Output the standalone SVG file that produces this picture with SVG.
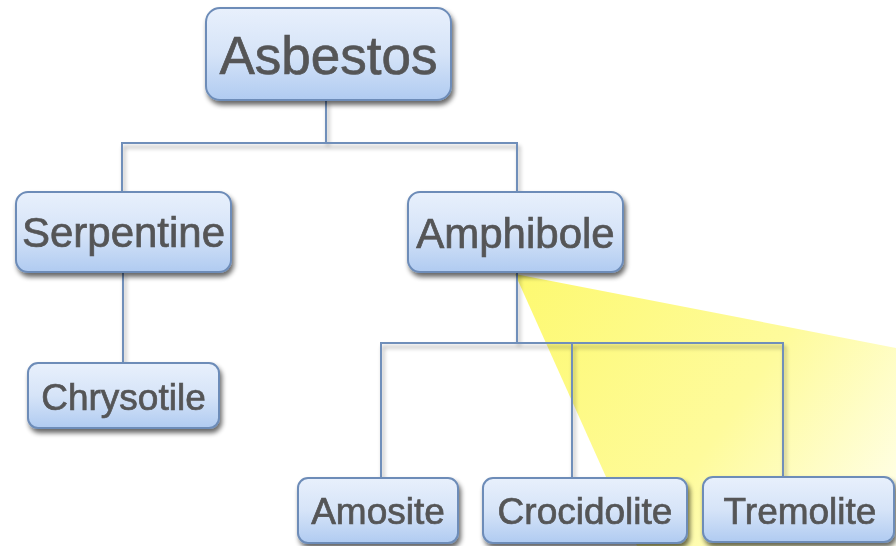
<svg xmlns="http://www.w3.org/2000/svg" width="896" height="546" viewBox="0 0 896 546">
<defs>
<linearGradient id="boxg" x1="0" y1="0" x2="0" y2="1">
<stop offset="0" stop-color="#e8f0fc"/>
<stop offset="0.5" stop-color="#d6e4f8"/>
<stop offset="1" stop-color="#b0cbf1"/>
</linearGradient>
<linearGradient id="beamg" gradientUnits="userSpaceOnUse" x1="515" y1="274" x2="896" y2="546">
<stop offset="0" stop-color="#fdf970"/>
<stop offset="0.55" stop-color="#fefb9c"/>
<stop offset="1" stop-color="#fffff2"/>
</linearGradient>
<filter id="shadow" x="-10%" y="-10%" width="130%" height="140%">
<feGaussianBlur in="SourceAlpha" stdDeviation="2.5"/>
<feOffset dx="2" dy="4" result="b"/>
<feComponentTransfer><feFuncA type="linear" slope="0.6"/></feComponentTransfer>
<feMerge><feMergeNode/><feMergeNode in="SourceGraphic"/></feMerge>
</filter>
<filter id="lshadow" x="-10%" y="-10%" width="120%" height="130%">
<feGaussianBlur in="SourceAlpha" stdDeviation="2"/>
<feOffset dx="2" dy="4" result="b"/>
<feComponentTransfer><feFuncA type="linear" slope="0.35"/></feComponentTransfer>
<feMerge><feMergeNode/><feMergeNode in="SourceGraphic"/></feMerge>
</filter>
</defs>
<style>
.box{fill:url(#boxg);stroke:#6d8cb8;stroke-width:2}
.lbl{font-family:"Liberation Sans",Arial,sans-serif;fill:#545557;stroke:#545557;stroke-width:0.7;text-anchor:middle}
.conn{fill:none;stroke:#6f8fba;stroke-width:2}
</style>
<rect width="896" height="546" fill="#ffffff"/>
<polygon id="beam" points="515,274 896,348 896,546 637,546" fill="url(#beamg)"/>
<g id="connectors" filter="url(#lshadow)">
<path class="conn" d="M326,100 V143 M122,192 V143 H517 V192"/>
<path class="conn" d="M123,272 V363"/>
<path class="conn" d="M517,272 V343 M381,478 V343 H783 V478 M572,343 V478"/>
</g>
<g id="asbestos" filter="url(#shadow)">
<rect class="box" x="206" y="8" width="245" height="92" rx="14"/>
<text class="lbl" x="328.5" y="74" font-size="53">Asbestos</text>
</g>
<g id="serpentine" filter="url(#shadow)">
<rect class="box" x="16" y="192" width="215" height="80" rx="12"/>
<text class="lbl" x="123.5" y="247" font-size="42">Serpentine</text>
</g>
<g id="amphibole" filter="url(#shadow)">
<rect class="box" x="408" y="192" width="215" height="80" rx="12"/>
<text class="lbl" x="515.5" y="248" font-size="42">Amphibole</text>
</g>
<g id="chrysotile" filter="url(#shadow)">
<rect class="box" x="28" y="363" width="191" height="65" rx="10"/>
<text class="lbl" x="123.5" y="410" font-size="37">Chrysotile</text>
</g>
<g id="amosite" filter="url(#shadow)">
<rect class="box" x="298" y="478" width="160" height="65" rx="10"/>
<text class="lbl" x="378" y="524" font-size="37">Amosite</text>
</g>
<g id="crocidolite" filter="url(#shadow)">
<rect class="box" x="483" y="478" width="204" height="65" rx="10"/>
<text class="lbl" x="585" y="524" font-size="37">Crocidolite</text>
</g>
<g id="tremolite" filter="url(#shadow)">
<rect class="box" x="703" y="477" width="191" height="65" rx="10"/>
<text class="lbl" x="800" y="524" font-size="37">Tremolite</text>
</g>
</svg>
